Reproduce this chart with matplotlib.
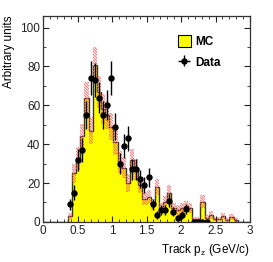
import numpy as np
import matplotlib
matplotlib.use("Agg")
from matplotlib import pyplot as plt
from matplotlib.patches import Patch

plt.rcParams['font.family'] = ['Liberation Sans', 'DejaVu Sans']
plt.rcParams['mathtext.default'] = 'regular'
plt.rcParams['hatch.linewidth'] = 0.6

# 50 bins of 0.06 GeV/c from 0 to 3
bin_edges = np.linspace(0, 3, 51)
bin_centers = 0.5 * (bin_edges[:-1] + bin_edges[1:])

# MC histogram contents
mc = [0, 0, 0, 0, 0, 0, 3, 25, 33, 44,
      64, 47, 81, 67, 58, 55, 49, 41, 31, 28,
      20, 32, 27, 19, 12, 13, 9, 18, 7, 10,
      15, 7, 6, 7, 8, 7, 1.5, 1.5, 10.5, 2,
      3.5, 1.5, 1.5, 3, 1, 2.5, 1, 0, 0, 0]

# data points
data_x = [0.39, 0.45, 0.51, 0.57, 0.63, 0.69, 0.75, 0.81, 0.87, 0.93,
          0.99, 1.05, 1.11, 1.17, 1.23, 1.29, 1.35, 1.41, 1.47, 1.53,
          1.59, 1.65, 1.71, 1.77, 1.83, 1.89, 1.95, 2.01, 2.07,
          2.19, 2.25, 2.31, 2.37]
data_y = [9, 15, 32, 37, 55, 74, 73, 64, 55, 60,
          74, 49, 30, 39, 43, 27, 27, 22, 19, 23,
          9, 3.6, 6, 6, 11, 5.3, 2, 3.6, 6.7,
          0, 0, 0, 0]

mc = np.array(mc)
mc_err = np.sqrt(mc)
data_err = np.sqrt(np.array(data_y))

fig = plt.figure(figsize=(2.73, 2.62), dpi=100)
ax = fig.add_axes([0.1575, 0.153, 0.7585, 0.786])

width = bin_edges[1] - bin_edges[0]
# yellow MC histogram
ax.bar(bin_centers, mc, width=width, color='#ffff00', linewidth=0)
ax.stairs(mc, bin_edges, color='#333333', linewidth=1.0)
# MC error band, red hatched
ax.bar(bin_centers, 2 * mc_err, bottom=mc - mc_err, width=width,
       facecolor='none', edgecolor='#ff5a5a', hatch='\\' * 12, linewidth=0)

# data
ax.errorbar(data_x, data_y, yerr=data_err, fmt='o', color='black',
            markersize=3.6, elinewidth=1.0, capsize=0)

ax.set_xlim(0, 3)
ax.set_ylim(0, 106)
ax.set_xticks([0, 0.5, 1, 1.5, 2, 2.5, 3])
ax.set_xticklabels(['0', '0.5', '1', '1.5', '2', '2.5', '3'])
ax.set_xticks(np.arange(0, 3.01, 0.1), minor=True)
ax.set_yticks([0, 20, 40, 60, 80, 100])
ax.set_yticks(np.arange(0, 106, 10), minor=True)
ax.tick_params(which='both', direction='in', top=True, right=True,
               labelsize=8.5, colors='#222222', pad=2)
ax.tick_params(which='major', length=4, width=0.8)
ax.tick_params(which='minor', length=2, width=0.6)
for s in ax.spines.values():
    s.set_linewidth(0.9)
    s.set_color('#333333')

ax.set_xlabel('Track p$_{z}$ (GeV/c)', fontsize=8.5, loc='right', labelpad=4)
ax.set_ylabel('Arbitrary units', fontsize=8.5, loc='top', labelpad=4)

h_mc = Patch(facecolor='#ffff00', edgecolor='black', linewidth=0.8)
h_data = ax.errorbar([], [], xerr=[], yerr=[], fmt='o', color='black',
                     markersize=3.6, elinewidth=1.0)
ax.legend([h_mc, h_data], ['MC', 'Data'], loc='upper left',
          bbox_to_anchor=(0.6, 0.96), frameon=False,
          prop={'weight': 'bold', 'size': 8.5}, handlelength=1.1,
          handleheight=1.2, handletextpad=0.35, labelspacing=0.65)

fig.savefig('out.png', dpi=100)
